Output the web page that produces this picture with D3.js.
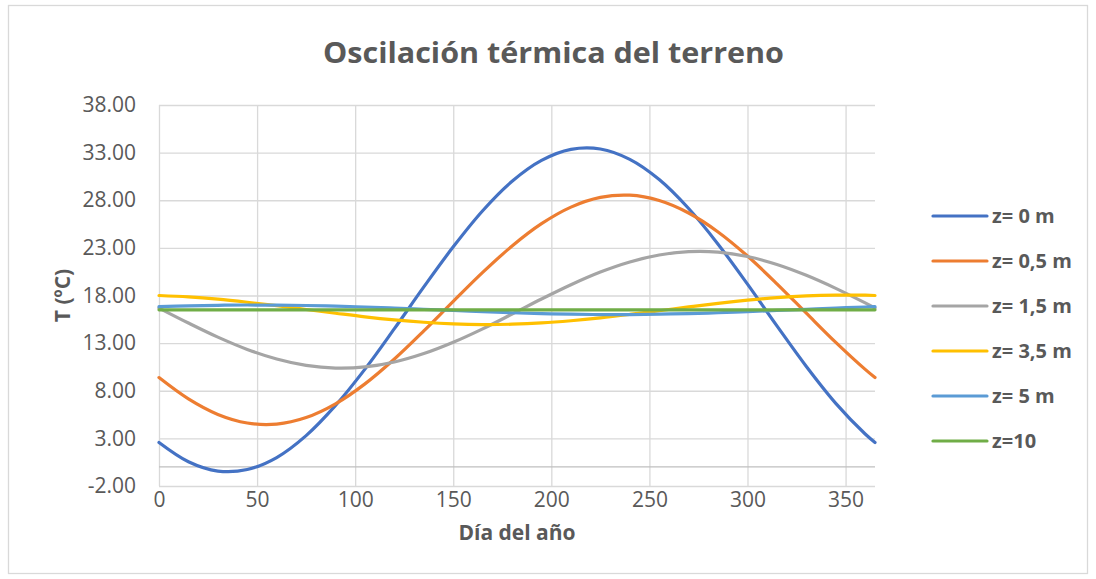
<!DOCTYPE html>
<html><head><meta charset="utf-8">
<script src="https://cdn.jsdelivr.net/npm/d3@7"></script>
<style>
body{margin:0;background:#fff}
svg{display:block}
text{font-family:"Open Sans",sans-serif}
</style>
</head><body>
<svg id="chart" width="1096" height="579"></svg>
<script>
// ---- data ----
const days = [0,15,30,45,60,75,90,105,120,135,150,165,180,195,210,225,240,255,270,285,300,315,330,345,360,365];
const seriesNames = ["z= 0 m","z= 0,5 m","z= 1,5 m","z= 3,5 m","z= 5 m","z=10"];
const tZ0   = [2.57,0.55,-0.43,-0.27,0.99,3.29,6.46,10.27,14.52,18.90,23.11,26.90,29.99,32.18,33.34,33.38,32.29,30.17,27.13,23.39,19.19,14.81,10.55,6.68,3.46,2.57];
const tZ05  = [9.38,7.14,5.51,4.61,4.50,5.19,6.63,8.72,11.33,14.28,17.38,20.42,23.20,25.54,27.28,28.30,28.53,27.97,26.66,24.67,22.14,19.23,16.14,13.08,10.24,9.38];
const tZ15  = [16.68,15.11,13.63,12.34,11.33,10.66,10.38,10.50,11.02,11.90,13.09,14.50,16.05,17.63,19.13,20.46,21.52,22.25,22.60,22.55,22.09,21.26,20.12,18.75,17.22,16.68];
const tZ35  = [18.00,17.85,17.61,17.29,16.93,16.53,16.14,15.76,15.44,15.19,15.02,14.95,14.99,15.12,15.35,15.65,16.01,16.40,16.80,17.18,17.51,17.78,17.96,18.04,18.03,18.00];
const tZ5   = [16.83,16.91,16.97,17.00,16.99,16.95,16.89,16.79,16.68,16.55,16.43,16.30,16.19,16.10,16.04,16.00,16.00,16.04,16.10,16.19,16.30,16.43,16.55,16.68,16.79,16.83];
const tZ10  = [16.5,16.5,16.5,16.5,16.5,16.5,16.5,16.5,16.5,16.5,16.5,16.5,16.5,16.5,16.5,16.5,16.5,16.5,16.5,16.5,16.5,16.5,16.5,16.5,16.5,16.5];
const xTicks = [0,50,100,150,200,250,300,350];
const yTicks = [-2,3,8,13,18,23,28,33,38];
const colors = ["#4472C4","#ED7D31","#A5A5A5","#FFC000","#5B9BD5","#70AD47"];
const titleText = "Oscilación térmica del terreno";
const xTitle = "Día del año";
const yTitle = "T (ºC)";

const allSeries = [tZ0,tZ05,tZ15,tZ35,tZ5,tZ10].map((vals,i)=>({
  name: seriesNames[i], color: colors[i],
  points: days.map((d,j)=>({x:d,y:vals[j]}))
}));

// ---- layout ----
const svg = d3.select("#chart");
const L=159, R=875, T=105, B=486;
const x = d3.scaleLinear().domain([0,365]).range([L,R]);
const y = d3.scaleLinear().domain([-2,38]).range([B,T]);
const textCol = "#595959", gridCol = "#D9D9D9";

svg.append("rect").attr("width",1096).attr("height",579).attr("fill","#fff");
svg.append("rect").attr("x",8.5).attr("y",5.5).attr("width",1079).attr("height",568)
  .attr("fill","none").attr("stroke",gridCol).attr("stroke-width",1.3);

// y axis + horizontal gridlines
const gy = svg.append("g").attr("transform",`translate(${L},0)`)
  .call(d3.axisLeft(y).tickValues(yTicks).tickSize(-(R-L)).tickPadding(23)
        .tickFormat(d=>d.toFixed(2)));
gy.select(".domain").remove();
gy.selectAll("line").attr("stroke",gridCol).attr("stroke-width",1.3);
gy.selectAll("text").attr("fill",textCol).style("font-size","21px");

// x axis + vertical gridlines
const gx = svg.append("g").attr("transform",`translate(0,${B})`)
  .call(d3.axisBottom(x).tickValues(xTicks).tickSize(-(B-T)).tickPadding(6)
        .tickFormat(d3.format("d")));
gx.select(".domain").remove();
gx.selectAll("line").attr("stroke",gridCol).attr("stroke-width",1.3);
gx.selectAll("text").attr("fill",textCol).style("font-size","21px");

// horizontal axis line at y = 0
svg.append("line").attr("x1",L).attr("x2",R).attr("y1",y(0)).attr("y2",y(0))
  .attr("stroke","#BFBFBF").attr("stroke-width",1.3);

// lines
const line = d3.line().x(d=>x(d.x)).y(d=>y(d.y)).curve(d3.curveCatmullRom);
svg.append("g").selectAll("path").data(allSeries).join("path")
  .attr("d",d=>line(d.points)).attr("fill","none")
  .attr("stroke",d=>d.color).attr("stroke-width",3.2)
  .attr("stroke-linecap","round").attr("stroke-linejoin","round");

// title
svg.append("text").attr("x",553.5).attr("y",63).attr("text-anchor","middle")
  .attr("fill",textCol).style("font-size","28px").style("font-weight","700")
  .attr("textLength",461).attr("lengthAdjust","spacingAndGlyphs")
  .text(titleText);

// axis titles
svg.append("text").attr("x",(L+R)/2).attr("y",540).attr("text-anchor","middle")
  .attr("fill",textCol).style("font-size","21px").style("font-weight","700")
  .text(xTitle);
svg.append("text").attr("transform",`translate(70,${(T+B)/2}) rotate(-90)`)
  .attr("text-anchor","middle").attr("fill",textCol)
  .style("font-size","21px").style("font-weight","700").text(yTitle);

// legend
const lg = svg.append("g").selectAll("g").data(allSeries).join("g")
  .attr("transform",(d,i)=>`translate(0,${216+i*45})`);
lg.append("line").attr("x1",933).attr("x2",987).attr("y1",0).attr("y2",0)
  .attr("stroke",d=>d.color).attr("stroke-width",3.2).attr("stroke-linecap","round");
lg.append("text").attr("x",992).attr("y",0).attr("dy","0.35em")
  .attr("fill",textCol).style("font-size","20px").style("font-weight","700")
  .text(d=>d.name);
</script>
</body></html>
